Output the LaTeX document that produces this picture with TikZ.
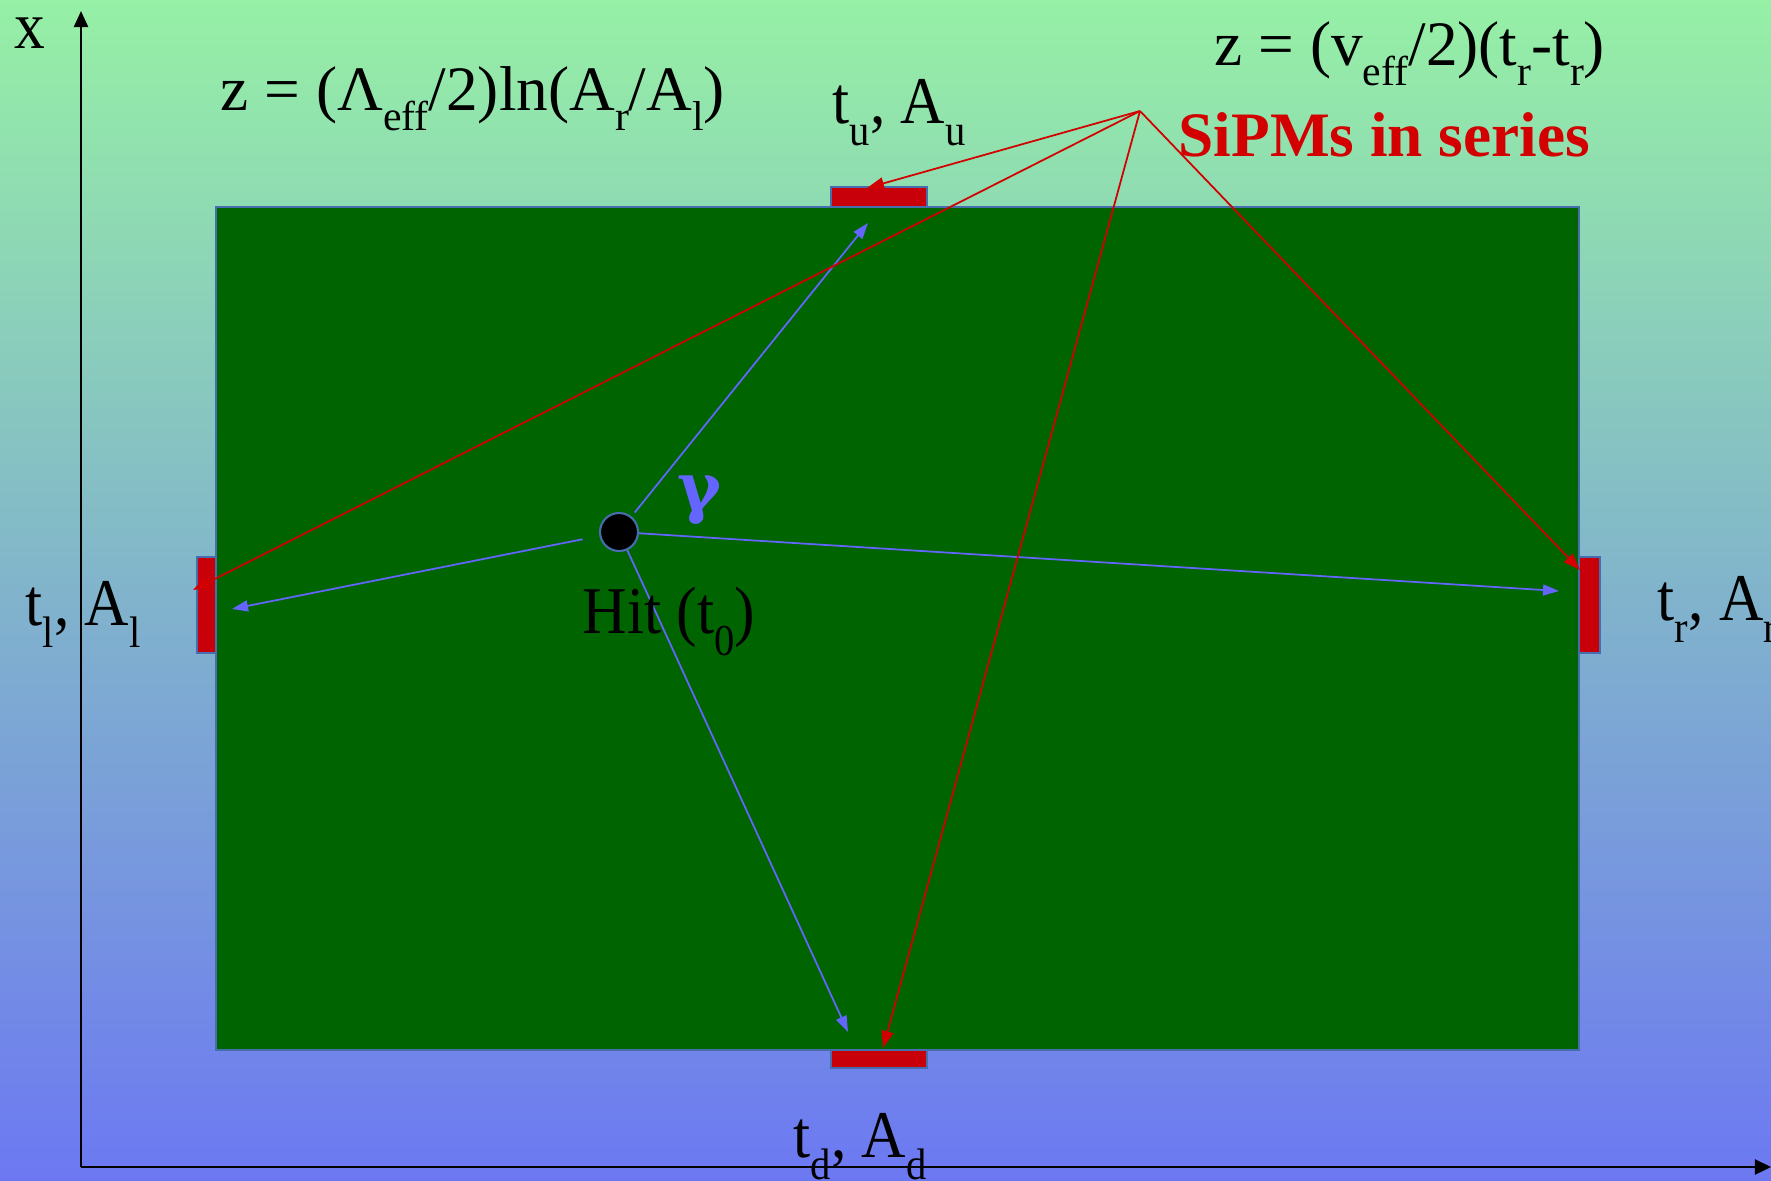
\documentclass[tikz,border=0pt]{standalone}
\usepackage{fontspec}
\setmainfont{Liberation Serif}
\newfontfamily\condfont[FakeStretch=0.92]{Liberation Serif}
\newfontfamily\gamfont{DejaVu Serif}
\usepackage{graphicx}
\usetikzlibrary{arrows.meta}
\newcommand\sbs[1]{\raisebox{-0.33em}{\scalebox{0.66}{#1}}}
\definecolor{bgtop}{RGB}{150,240,165}
\definecolor{bgbot}{RGB}{108,120,242}
\definecolor{plate}{RGB}{0,100,0}
\definecolor{sipm}{RGB}{200,0,10}
\definecolor{edgeblue}{RGB}{70,110,175}
\definecolor{ray}{RGB}{100,100,255}
\definecolor{sig}{RGB}{210,0,0}
\tikzset{
  axisline/.style={line width=0.65pt,black},
  sipmbox/.style={draw=edgeblue,line width=0.6pt,fill=sipm},
  rayarrow/.style={ray,line width=0.5pt,-{Triangle[length=0.16cm,width=0.11cm]}},
  sigarrow/.style={sig,line width=0.5pt,-{Triangle[length=0.17cm,width=0.12cm]}},
  lab/.style={inner sep=0pt,anchor=base west,font=\condfont\fontsize{19}{22}\selectfont},
  formula/.style={inner sep=0pt,anchor=base west,font=\fontsize{18}{21}\selectfont},
}
\begin{document}
\begin{tikzpicture}[x=0.01cm,y=-0.01cm]
\useasboundingbox (0,0) rectangle (1771,1181);
\clip (0,0) rectangle (1771,1181);
\shade[top color=bgtop,bottom color=bgbot] (0,0) rectangle (1771,1181);
% axes
\coordinate (O) at (81,1167);
\coordinate (xtop) at (81,11);
\coordinate (zend) at (1771,1167);
\draw[axisline,-{Triangle[length=0.16cm,width=0.14cm]}] (O) -- (xtop);
\draw[axisline,-{Triangle[length=0.16cm,width=0.15cm]}] (O) -- (zend);
% plate
\draw[draw=edgeblue,line width=0.6pt,fill=plate] (216,207) rectangle (1579,1050);
% SiPMs
\draw[sipmbox] (831,187) rectangle (927,207);
\draw[sipmbox] (831,1050) rectangle (927,1068);
\draw[sipmbox] (197,557) rectangle (216,653);
\draw[sipmbox] (1579,557) rectangle (1600,653);
% hit
\node[circle,fill=black,draw=edgeblue,line width=0.6pt,minimum size=0.38cm,inner sep=0pt] (hit) at (619,532) {};
\coordinate (ut) at (868,223);
\coordinate (lt) at (232,609);
\coordinate (rt) at (1559,591);
\coordinate (dt) at (848,1032);
\draw[rayarrow,shorten <=0.05cm] (hit) -- (ut);
\draw[rayarrow,shorten <=0.17cm] (hit) -- (lt);
\draw[rayarrow] (hit) -- (rt);
\draw[rayarrow] (hit) -- (dt);
% red signal lines
\coordinate (S) at (1140,111);
\coordinate (su) at (867,188);
\coordinate (sl) at (193,590);
\coordinate (sd) at (883,1048);
\coordinate (sr) at (1580,570);
\draw[sigarrow] (S) -- (su);
\draw[sigarrow] (S) -- (sl);
\draw[sigarrow] (S) -- (sd);
\draw[sigarrow] (S) -- (sr);
% labels
\node[lab] (xlab) at (14,48) {x};
\node[formula] (f1) at (220,110) {z = (Λ\sbs{eff}/2)ln(A\sbs{r}/A\sbs{l})};
\node[formula] (f2) at (1214,65) {z = (v\sbs{eff}/2)(t\sbs{r}-t\sbs{r})};
\node[inner sep=0pt,anchor=base west,font=\fontsize{18}{22}\selectfont\bfseries,text=sig] (series) at (1178,156) {SiPMs in series};
\node[lab] (tu) at (832,123) {t\sbs{u}, A\sbs{u}};
\node[lab] (tl) at (25,625) {t\sbs{l}, A\sbs{l}};
\node[lab] (tr) at (1657,620) {t\sbs{r}, A\sbs{r}};
\node[lab] (td) at (793,1157) {t\sbs{d}, A\sbs{d}};
\node[lab] (hitlab) at (582,633) {Hit (t\sbs{0})};
\node[inner sep=0pt,font=\gamfont\fontsize{19}{22}\selectfont\bfseries,text=ray] (gam) at (700,500) {γ};
\end{tikzpicture}
\end{document}
